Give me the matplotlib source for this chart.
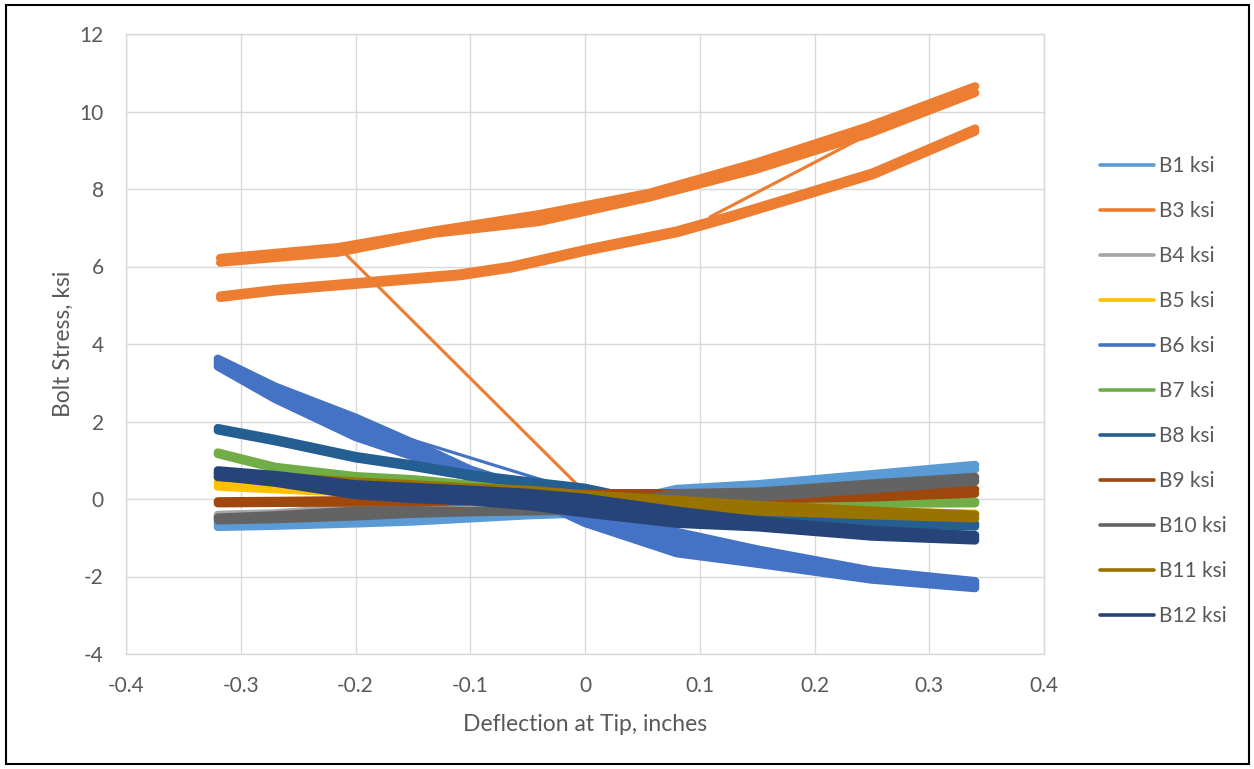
import matplotlib
matplotlib.use("Agg")
import matplotlib.pyplot as plt
from matplotlib.patches import Rectangle

plt.rcParams['font.family'] = ['Lato', 'DejaVu Sans']

# ---------------- data ----------------
x_grid = [-0.32, -0.27, -0.20, -0.15, -0.10, -0.05, 0.00, 0.08, 0.15, 0.25, 0.34]

B1_top = [-0.64, -0.61, -0.55, -0.50, -0.41, -0.33, -0.27, 0.26, 0.38, 0.64, 0.88]
B1_bot = [-0.72, -0.69, -0.63, -0.58, -0.50, -0.42, -0.37, 0.16, 0.27, 0.53, 0.77]

B3_up_x = [-0.318, -0.215, -0.131, -0.040, 0.056, 0.149, 0.247, 0.340]
B3_up_a = [6.22, 6.50, 6.93, 7.35, 7.90, 8.68, 9.62, 10.65]
B3_up_b = [6.10, 6.36, 6.85, 7.15, 7.78, 8.50, 9.42, 10.48]
B3_lo_x = [-0.318, -0.269, -0.109, -0.064, 0.000, 0.080, 0.127, 0.251, 0.340]
B3_lo_a = [5.25, 5.42, 5.82, 6.02, 6.45, 6.93, 7.32, 8.43, 9.56]
B3_lo_b = [5.19, 5.36, 5.75, 5.95, 6.38, 6.86, 7.25, 8.36, 9.48]
B3_jump1_x = [0.000, -0.213]
B3_jump1_y = [0.17, 6.45]
B3_jump2_x = [0.109, 0.256]
B3_jump2_y = [7.28, 9.55]

B4_top = [-0.41, -0.37, -0.22, -0.22, -0.26, -0.25, -0.22, 0.10, 0.15, 0.36, 0.55]
B4_bot = [-0.46, -0.43, -0.30, -0.30, -0.30, -0.30, -0.27, 0.02, 0.07, 0.28, 0.48]

B5_top = [0.42, 0.33, 0.25, 0.20, 0.15, 0.08, 0.00, -0.12, -0.20, -0.32, -0.38]
B5_bot = [0.32, 0.25, 0.16, 0.12, 0.07, 0.00, -0.07, -0.20, -0.28, -0.40, -0.47]

B6_b1 = [3.62, 2.90, 2.10, 1.45, 0.76, 0.28, -0.25, -0.85, -1.30, -1.85, -2.12]
B6_b2 = [3.55, 2.79, 1.93, 1.33, 0.69, 0.21, -0.37, -1.03, -1.42, -1.93, -2.18]
B6_b3 = [3.49, 2.69, 1.77, 1.21, 0.62, 0.14, -0.50, -1.22, -1.55, -2.00, -2.24]
B6_b4 = [3.42, 2.58, 1.60, 1.10, 0.55, 0.07, -0.62, -1.40, -1.67, -2.08, -2.30]
B6_jump_x = [0.00, -0.15]
B6_jump_y = [0.15, 1.52]

B7_top = [1.20, 0.83, 0.59, 0.51, 0.37, 0.27, 0.14, 0.02, -0.06, -0.08, -0.07]
B7_bot = [1.16, 0.79, 0.55, 0.47, 0.33, 0.23, 0.10, -0.02, -0.10, -0.12, -0.11]

B8_top = [1.83, 1.55, 1.11, 0.89, 0.64, 0.46, 0.29, -0.21, -0.43, -0.58, -0.64]
B8_bot = [1.77, 1.49, 1.05, 0.83, 0.58, 0.40, 0.21, -0.29, -0.49, -0.63, -0.71]

B9_top = [-0.06, -0.05, -0.03, -0.02, 0.01, 0.07, 0.15, 0.15, 0.14, 0.17, 0.25]
B9_bot = [-0.11, -0.10, -0.09, -0.08, -0.06, -0.03, 0.03, 0.01, -0.01, 0.04, 0.14]

B10_top = [-0.48, -0.42, -0.30, -0.29, -0.31, -0.29, -0.25, 0.15, 0.19, 0.40, 0.57]
B10_bot = [-0.55, -0.52, -0.45, -0.38, -0.34, -0.32, -0.30, 0.00, 0.04, 0.25, 0.45]

B11_top = [0.66, 0.58, 0.45, 0.38, 0.30, 0.24, 0.12, -0.02, -0.15, -0.30, -0.40]
B11_bot = [0.56, 0.48, 0.35, 0.28, 0.20, 0.13, -0.02, -0.16, -0.32, -0.42, -0.50]

B12_top = [0.74, 0.62, 0.38, 0.31, 0.24, 0.16, 0.03, -0.30, -0.55, -0.80, -0.93]
B12_mid = [0.66, 0.52, 0.24, 0.16, 0.09, -0.01, -0.17, -0.47, -0.64, -0.88, -1.00]
B12_bot = [0.58, 0.42, 0.10, 0.00, -0.06, -0.18, -0.37, -0.64, -0.73, -0.97, -1.07]
B12_start_x = [0.0, 0.0]
B12_start_y = [0.14, 0.02]

series_labels = ["B1 ksi", "B3 ksi", "B4 ksi", "B5 ksi", "B6 ksi", "B7 ksi",
                 "B8 ksi", "B9 ksi", "B10 ksi", "B11 ksi", "B12 ksi"]
series_colors = ["#5B9BD5", "#ED7D31", "#A5A5A5", "#FFC000", "#4472C4", "#70AD47",
                 "#255E91", "#9E480E", "#636363", "#997300", "#264478"]

x_ticks = [-0.4, -0.3, -0.2, -0.1, 0.0, 0.1, 0.2, 0.3, 0.4]
x_tick_labels = ["-0.4", "-0.3", "-0.2", "-0.1", "0", "0.1", "0.2", "0.3", "0.4"]
y_ticks = [-4, -2, 0, 2, 4, 6, 8, 10, 12]
y_tick_labels = ["-4", "-2", "0", "2", "4", "6", "8", "10", "12"]

# -------------- structure --------------
branches = [
    [(x_grid, B1_top), (x_grid, B1_bot)],
    [(B3_up_x, B3_up_a), (B3_up_x, B3_up_b), (B3_lo_x, B3_lo_a), (B3_lo_x, B3_lo_b)],
    [(x_grid, B4_top), (x_grid, B4_bot)],
    [(x_grid, B5_top), (x_grid, B5_bot)],
    [(x_grid, B6_b1), (x_grid, B6_b2), (x_grid, B6_b3), (x_grid, B6_b4)],
    [(x_grid, B7_top), (x_grid, B7_bot)],
    [(x_grid, B8_top), (x_grid, B8_bot)],
    [(x_grid, B9_top), (x_grid, B9_bot)],
    [(x_grid, B10_top), (x_grid, B10_bot)],
    [(x_grid, B11_top), (x_grid, B11_bot)],
    [(x_grid, B12_top), (x_grid, B12_mid), (x_grid, B12_bot)],
]
transitions = [
    [],
    [(B3_jump1_x, B3_jump1_y), (B3_jump2_x, B3_jump2_y)],
    [], [],
    [(B6_jump_x, B6_jump_y)],
    [], [], [], [], [],
    [(B12_start_x, B12_start_y)],
]

TEXT = "#595959"
GRID = "#D9D9D9"
BAND_LW = 6.0
THIN_LW = 2.25

fig = plt.figure(figsize=(12.54, 7.69), dpi=100)
ax = fig.add_axes([126 / 1254, 1 - 654 / 769, 918 / 1254, 620 / 769])

for k, (label, color) in enumerate(zip(series_labels, series_colors)):
    z = 2 + k
    for i, (xs, ys) in enumerate(branches[k]):
        ax.plot(xs, ys, color=color, lw=BAND_LW, solid_capstyle='round',
                solid_joinstyle='round', zorder=z, label=label if i == 0 else None)
    for xs, ys in transitions[k]:
        lw = BAND_LW if k == 10 else THIN_LW
        ax.plot(xs, ys, color=color, lw=lw, solid_capstyle='butt' if k == 10 else 'round',
                zorder=z)

ax.set_xlim(-0.4, 0.4)
ax.set_ylim(-4, 12)
ax.set_xticks(x_ticks)
ax.set_xticklabels(x_tick_labels)
ax.set_yticks(y_ticks)
ax.set_yticklabels(y_tick_labels)
ax.tick_params(axis='both', length=0, labelsize=15, labelcolor=TEXT)
ax.tick_params(axis='x', pad=16)
ax.tick_params(axis='y', pad=16)
ax.grid(True, color=GRID, lw=1.0, zorder=0)
ax.set_axisbelow(True)
for s in ax.spines.values():
    s.set_color(GRID)
    s.set_linewidth(1.0)

ax.set_xlabel("Deflection at Tip, inches", fontsize=16.5, color=TEXT)
ax.xaxis.set_label_coords(0.5, -(714 - 654) / 620)
ax.set_ylabel("Bolt Stress, ksi", fontsize=16.5, color=TEXT)
ax.yaxis.set_label_coords(-(126 - 74) / 918, 0.5)

handles, labels = ax.get_legend_handles_labels()
leg = fig.legend(handles, labels, loc='upper left',
                 bbox_to_anchor=(1100 / 1254, 1 - 156 / 769),
                 frameon=False, fontsize=15, labelcolor=TEXT,
                 handlelength=2.6, handletextpad=0.25, labelspacing=1.2,
                 borderpad=0, borderaxespad=0)
for ln in leg.get_lines():
    ln.set_linewidth(2.6)
    ln.set_solid_capstyle('round')

fig.patches.append(Rectangle((5.5 / 1254, 5 / 769), (1249 - 5.5) / 1254, (764 - 5) / 769,
                             transform=fig.transFigure, fill=False, ec='black', lw=1.5))

fig.savefig("out.png", dpi=100)
